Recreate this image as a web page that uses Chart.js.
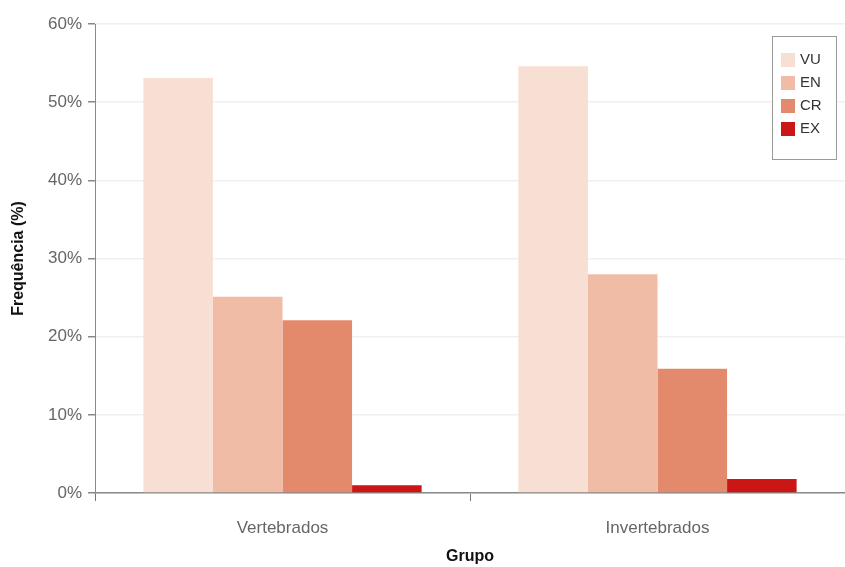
<!DOCTYPE html>
<html>
<head>
<meta charset="utf-8">
<script src="https://cdn.jsdelivr.net/npm/chart.js@4.4.1/dist/chart.umd.min.js"></script>
<style>
html,body{margin:0;padding:0;background:#fff;}
#wrap{width:845px;height:567px;position:relative;}
</style>
</head>
<body>
<div id="wrap"><canvas id="c"></canvas></div>
<script>
const categories = ["Vertebrados", "Invertebrados"];
const seriesNames = ["VU", "EN", "CR", "EX"];
const VU = [53.1, 54.6];
const EN = [25.1, 28.0];
const CR = [22.1, 15.9];
const EX = [1.0, 1.8];
const seriesColors = ["#f8dfd3", "#f0bca6", "#e48a6c", "#cc1515"];
const yTicks = [0, 10, 20, 30, 40, 50, 60];

const FONT = "'Liberation Sans', Arial, sans-serif";

const insideLegend = {
  id: 'insideLegend',
  afterDraw(chart) {
    const ctx = chart.ctx;
    const ca = chart.chartArea;
    const ds = chart.data.datasets;
    const w = 64, rowH = 23, h = 123;
    const x0 = ca.right - 73, y0 = ca.top + 12;
    ctx.save();
    ctx.fillStyle = '#ffffff';
    ctx.fillRect(x0, y0, w, h);
    ctx.strokeStyle = '#9a9a9a';
    ctx.lineWidth = 1;
    ctx.strokeRect(x0 + 0.5, y0 + 0.5, w, h);
    ctx.font = "15px " + FONT;
    ctx.textBaseline = 'middle';
    ds.forEach((d, i) => {
      const cy = y0 + 24 + i * rowH;
      ctx.fillStyle = d.backgroundColor;
      ctx.fillRect(x0 + 9, cy - 7, 14, 14);
      ctx.fillStyle = '#333';
      ctx.fillText(d.label, x0 + 28, cy);
    });
    ctx.restore();
  }
};

const seriesData = [VU, EN, CR, EX];

new Chart(document.getElementById('c'), {
  type: 'bar',
  data: {
    labels: categories,
    datasets: seriesNames.map((n, i) => ({
      label: n,
      data: seriesData[i],
      backgroundColor: seriesColors[i],
      borderWidth: 0,
      categoryPercentage: 0.742,
      barPercentage: 1.0
    }))
  },
  options: {
    responsive: true,
    maintainAspectRatio: false,
    animation: false,
    layout: { padding: { top: 24, right: 0, left: 9, bottom: 0 } },
    plugins: {
      legend: { display: false },
      tooltip: { enabled: false }
    },
    scales: {
      x: {
        afterFit(scale) { scale.height = 74; },
        grid: { display: true, drawOnChartArea: false, drawTicks: true, tickLength: 8, color: '#777', offset: true },
        border: { color: '#8a8a8a', width: 1.5 },
        ticks: { color: '#666', font: { family: FONT, size: 17 }, padding: 17 },
        title: { display: true, text: 'Grupo', color: '#111', font: { family: FONT, size: 16, weight: 'bold' }, padding: { top: 0, bottom: 1 } }
      },
      y: {
        min: 0, max: 60,
        afterFit(scale) { scale.width = 86; },
        afterBuildTicks(axis) { axis.ticks = yTicks.map(v => ({ value: v })); },
        grid: { color: '#f0f0f0', tickColor: '#888', tickLength: 7, lineWidth: 1.5 },
        border: { color: '#8a8a8a', width: 1 },
        ticks: { color: '#666', font: { family: FONT, size: 17 }, padding: 6, callback: v => v + '%' },
        title: { display: true, text: 'Frequência (%)', color: '#111', font: { family: FONT, size: 16, weight: 'bold' }, padding: { top: 0, bottom: 0 } }
      }
    }
  },
  plugins: [insideLegend]
});
</script>
</body>
</html>
